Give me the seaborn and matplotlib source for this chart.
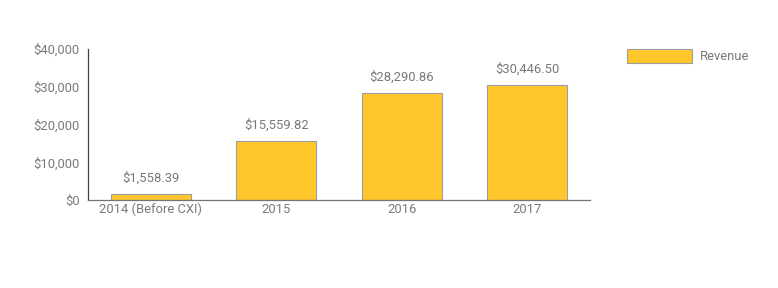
import matplotlib
matplotlib.use("Agg")
import matplotlib.pyplot as plt
import seaborn as sns
import pandas as pd
from matplotlib.patches import Patch

categories = ["2014 (Before CXI)", "2015", "2016", "2017"]
revenue = [1558.39, 15559.82, 28290.86, 30446.50]
yticks = [0, 10000, 20000, 30000, 40000]
ytick_labels = ["$0", "$10,000", "$20,000", "$30,000", "$40,000"]
series_name = "Revenue"

sns.set_style("white")
plt.rcParams['font.family'] = ['Roboto', 'DejaVu Sans']

df = pd.DataFrame({"category": categories, "value": revenue})

fig = plt.figure(figsize=(7.78, 2.88), dpi=100)
ax = fig.add_axes([88/778, 1-200/288, (590-88)/778, (200-49)/288])

bar_color = "#FFC72C"
edge = "#9E9E9E"
text_color = "#7a7a7a"
fs = 9.4

sns.barplot(data=df, x="category", y="value", ax=ax, color=bar_color,
            edgecolor=edge, linewidth=0.8, width=0.64, saturation=1)

for i, v in enumerate(revenue):
    ax.text(i, v + 2500, f"${v:,.2f}", ha="center", va="bottom",
            fontsize=fs, color=text_color)

ax.set_ylim(0, 40000)
ax.set_xlim(-0.5, 3.5)
ax.set_yticks(yticks)
ax.set_yticklabels(ytick_labels, fontsize=fs, color=text_color)
ax.tick_params(axis='x', labelsize=fs, colors=text_color, length=0, pad=2)
ax.tick_params(axis='y', length=0, pad=6)
ax.set_xlabel("")
ax.set_ylabel("")
sns.despine(ax=ax, top=True, right=True)
ax.spines['left'].set_color("#424242")
ax.spines['left'].set_linewidth(0.9)
ax.spines['bottom'].set_color("#757575")
ax.spines['bottom'].set_linewidth(0.9)

handle = Patch(facecolor=bar_color, edgecolor=edge, linewidth=0.8)
fig.legend([handle], [series_name], loc="upper left",
           bbox_to_anchor=(615/778, 1-37/288), frameon=False,
           handlelength=5.0, handleheight=1.25,
           labelcolor=text_color, handletextpad=0.6,
           prop={'size': fs})

fig.savefig("out.png", dpi=100)
